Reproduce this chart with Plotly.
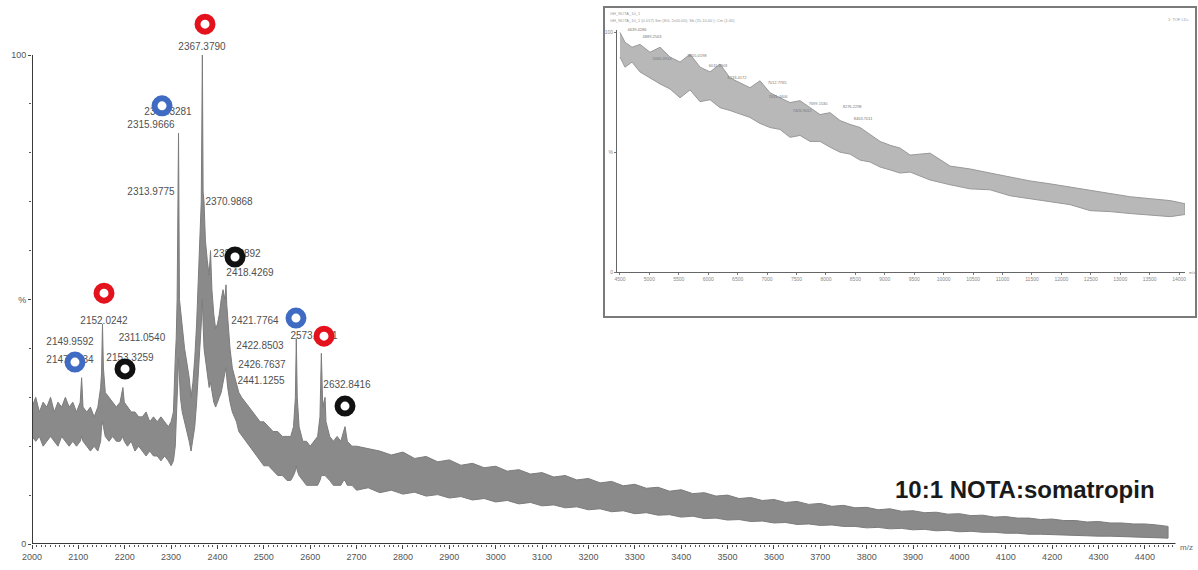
import plotly.graph_objects as go

# ---------------- main spectrum (m/z, upper / lower edge of the noisy trace, %) -------------
mz = [2000, 2008, 2016, 2024, 2032, 2040, 2048, 2056, 2064, 2072, 2080, 2088, 2096, 2104,
      2107, 2110, 2118, 2126, 2134, 2142, 2148, 2150, 2152, 2154, 2158, 2166, 2174, 2182,
      2190, 2196, 2199, 2206, 2214, 2222, 2230, 2238, 2246, 2254, 2262, 2270, 2278, 2286,
      2294, 2300, 2305, 2309, 2311, 2313, 2314, 2315, 2316, 2318, 2320, 2324, 2329, 2334,
      2339, 2343, 2347, 2351, 2355, 2359, 2362, 2365, 2367.4, 2369, 2371, 2374, 2378, 2382,
      2385, 2388, 2392, 2396, 2400, 2404, 2408, 2412, 2416, 2418.4, 2420, 2422, 2423, 2427,
      2432, 2437, 2441, 2446, 2452, 2460, 2468, 2476, 2484, 2492, 2500, 2510, 2520, 2530,
      2540, 2550, 2558, 2564, 2568, 2570, 2572, 2576, 2584, 2592, 2600, 2608, 2616, 2621,
      2624, 2627, 2632, 2634, 2642, 2650, 2658, 2666, 2672, 2675, 2680, 2690,
      2700, 2725, 2750, 2775, 2800, 2825, 2850, 2875, 2900, 2925, 2950, 2975, 3000, 3025,
      3050, 3075, 3100, 3125, 3150, 3175, 3200, 3225, 3250, 3275, 3300, 3325, 3350, 3375,
      3400, 3425, 3450, 3475, 3500, 3525, 3550, 3575, 3600, 3625, 3650, 3675, 3700, 3725,
      3750, 3775, 3800, 3825, 3850, 3875, 3900, 3925, 3950, 3975, 4000, 4025, 4050, 4075,
      4100, 4125, 4150, 4175, 4200, 4225, 4250, 4275, 4300, 4325, 4350, 4375, 4400, 4425,
      4450]
upper = [28, 30, 27, 29, 28, 30, 27, 29, 28, 30, 28, 29, 27, 29,
         34, 28, 27, 28, 26, 28, 32, 35, 45, 36, 31, 30, 29, 28,
         29, 32, 29, 28, 27, 27, 26, 26, 27, 25, 26, 25, 26, 25,
         24, 25, 27, 38, 42, 50, 70, 60, 84, 50, 48, 44, 40, 37,
         34, 30, 33, 38, 45, 55, 62, 70, 100, 72, 70, 62, 58, 55,
         60, 52, 47, 44, 45, 47, 50, 52, 50, 53, 49, 46, 44, 40,
         36, 34, 33, 31, 30, 29, 28, 27, 26, 25, 25, 24, 23, 23,
         22, 22, 22, 24, 30, 42, 30, 24, 21, 21, 20, 21, 22, 26,
         39, 28, 30, 25, 22, 21, 22, 21, 23, 24, 21, 20,
         20, 19.5, 19, 18.2, 18.8, 17.5, 17.9, 16.8, 17.2, 16.1, 16.5, 15.6, 15.9, 14.9,
         15.2, 14.3, 14.6, 13.7, 14.0, 13.1, 13.4, 12.5, 12.8, 11.9, 12.2, 11.4, 11.6, 10.8,
         11.1, 10.3, 10.5, 9.8, 10.0, 9.3, 9.5, 8.9, 9.1, 8.5, 8.7, 8.1, 8.3, 7.7,
         7.9, 7.4, 7.5, 7.0, 7.2, 6.7, 6.8, 6.4, 6.5, 6.1, 6.2, 5.8, 5.9, 5.5,
         5.6, 5.3, 5.3, 5.0, 5.1, 4.8, 4.8, 4.5, 4.6, 4.3, 4.3, 4.1, 4.1, 3.9,
         3.6]
lower = [22, 21, 22, 20, 21, 22, 21, 20, 22, 21, 20, 21, 20, 21,
         22, 21, 20, 19, 20, 19, 21, 24, 25, 24, 22, 21, 22, 21,
         21, 22, 21, 20, 21, 19, 20, 19, 18, 19, 18, 18, 17, 18,
         17, 16, 17, 20, 25, 30, 32, 35, 38, 33, 30, 27, 25, 23,
         21, 19, 21, 24, 29, 34, 40, 45, 50, 45, 40, 38, 35, 32,
         33, 31, 29, 28, 29, 30, 31, 33, 35, 36, 34, 32, 31, 29,
         27, 26, 25, 23, 22, 21, 20, 19, 18, 17, 16, 16, 15, 14,
         14, 13, 13, 14, 15, 16, 15, 14, 13, 12, 12, 12, 12, 13,
         14, 14, 14, 14, 13, 12, 12, 12, 13, 13, 12, 12,
         11, 11.5, 10.5, 11, 10.2, 10.6, 9.8, 10.1, 9.4, 9.7, 9.0, 9.3, 8.6, 8.9,
         8.2, 8.5, 7.8, 8.0, 7.4, 7.6, 7.0, 7.2, 6.6, 6.8, 6.2, 6.4, 5.9, 6.0,
         5.5, 5.7, 5.2, 5.3, 4.9, 5.0, 4.6, 4.7, 4.3, 4.4, 4.0, 4.1, 3.8, 3.9,
         3.6, 3.6, 3.3, 3.4, 3.1, 3.2, 2.9, 3.0, 2.7, 2.8, 2.5, 2.6, 2.4, 2.4,
         2.2, 2.2, 2.0, 2.0, 1.9, 1.9, 1.7, 1.7, 1.6, 1.6, 1.5, 1.4, 1.3, 1.3,
         1.2]

# ---------------- peak labels (text, position of label centre) ----------------
label_text = ["2367.3790", "2368.3281", "2315.9666", "2313.9775", "2370.9868", "2384.3892",
              "2418.4269", "2421.7764", "2422.8503", "2426.7637", "2441.1255", "2152.0242",
              "2149.9592", "2147.8634", "2311.0540", "2153.3259", "2573.8351", "2632.8416"]
label_mz = [2366.6, 2293.3, 2256.6, 2256.6, 2424.9, 2442.1, 2470.1, 2480.9, 2491.7, 2496.0,
            2493.9, 2155.3, 2081.9, 2081.9, 2237.2, 2211.3, 2608.2, 2679.3]
label_y = [101.6, 88.3, 85.5, 71.8, 69.9, 59.3, 55.4, 45.4, 40.3, 36.6, 33.3, 45.6, 41.3,
           37.6, 42.1, 38.0, 42.5, 32.5]

# ---------------- coloured ring markers ----------------
ring_mz = [2373.1, 2155.3, 2629.7, 2280.4, 2092.7, 2569.3, 2437.8, 2200.6, 2675.0]
ring_y = [106.3, 51.3, 42.5, 89.6, 37.2, 46.2, 58.7, 35.8, 28.2]
ring_color = ["#e3121c", "#e3121c", "#e3121c", "#3f6cc2", "#3f6cc2", "#3f6cc2",
              "#111111", "#111111", "#111111"]

# ---------------- x tick labels ----------------
x_ticks = list(range(2000, 4401, 100))
x_minor = list(range(2000, 4461, 10))

# ---------------- inset spectrum ----------------
in_mz = [4501, 4586, 4705, 4841, 5011, 5181, 5351, 5521, 5691, 5861, 6031, 6200, 6370,
         6540, 6710, 6880, 7050, 7220, 7390, 7560, 7730, 7900, 8070, 8240, 8410, 8580,
         8750, 8920, 9090, 9260, 9430, 9770, 10110, 10450, 10790, 11130, 11470, 11810,
         12150, 12490, 12830, 13170, 13510, 13850, 14100]
in_upper = [100, 95.9, 93.8, 95.0, 91.7, 93.8, 89.7, 87.6, 90.9, 85.5, 83.5, 86.8, 81.0,
            78.9, 76.9, 79.8, 74.8, 72.7, 70.7, 71.5, 68.6, 65.7, 66.5, 63.2, 61.6, 60.3,
            57.4, 54.5, 52.9, 51.7, 48.8, 49.6, 44.2, 43.0, 41.3, 39.7, 38.0, 36.8,
            35.5, 33.9, 32.6, 31.4, 30.6, 29.8, 28.5]
in_lower = [89.7, 85.5, 87.6, 83.5, 81.0, 78.5, 76.4, 72.7, 76.0, 71.1, 71.9, 68.6, 67.4,
            66.1, 64.5, 62.0, 60.3, 59.5, 56.2, 57.0, 54.5, 54.5, 52.1, 50.0, 49.2, 46.7,
            45.9, 43.8, 42.6, 41.3, 41.7, 38.4, 36.4, 34.7, 34.3, 31.8, 30.6, 29.3,
            28.1, 25.6, 25.2, 24.4, 23.6, 23.1, 24.0]
in_label_text = ["4639.4286", "4889.2563", "5060.3914", "5655.0198", "6011.5903", "6333.4172",
                 "7012.7765", "7031.4406", "7426.9012", "7699.1530", "8276.2298", "8463.7011"]
in_label_mz = [4790, 5045, 5215, 5810, 6167, 6490, 7170, 7187, 7595, 7867, 8445, 8632]
in_label_y = [101, 98, 89, 90, 86, 81, 79, 73, 67, 70, 69, 64]
in_ticks = list(range(4500, 14001, 500))

FONT = "Liberation Sans, Arial, sans-serif"
fig = go.Figure()

# main spectrum band
fig.add_trace(go.Scatter(
    x=mz + mz[::-1], y=upper + lower[::-1], mode="lines", fill="toself",
    fillcolor="#8a8a8a", line=dict(color="#7c7c7c", width=1), hoverinfo="skip",
    showlegend=False))

# peak labels (drawn below the rings)
fig.add_trace(go.Scatter(
    x=label_mz, y=label_y, mode="text", text=label_text, textposition="middle center",
    textfont=dict(family=FONT, size=10, color="#505050"), showlegend=False,
    hoverinfo="skip", cliponaxis=False))

# rings
fig.add_trace(go.Scatter(
    x=ring_mz, y=ring_y, mode="markers",
    marker=dict(symbol="circle", size=15, color="white",
                line=dict(color=ring_color, width=6)),
    showlegend=False, hoverinfo="skip", cliponaxis=False))

# inset spectrum
fig.add_trace(go.Scatter(
    x=in_mz + in_mz[::-1], y=in_upper + in_lower[::-1], mode="lines", fill="toself",
    fillcolor="#b8b8b8", line=dict(color="#999999", width=1), xaxis="x2", yaxis="y2",
    hoverinfo="skip", showlegend=False))
fig.add_trace(go.Scatter(
    x=in_label_mz, y=in_label_y, mode="text", text=in_label_text,
    textfont=dict(family=FONT, size=4, color="#777"), xaxis="x2", yaxis="y2",
    hoverinfo="skip", showlegend=False, cliponaxis=False))

L, R, T, B = 32, 5, 5, 26
W, H = 1198, 570
pw, ph = W - L - R, H - T - B


def px(xp):
    return (xp - L) / pw


def py(yp):
    return (H - B - yp) / ph


fig.update_layout(
    width=W, height=H, margin=dict(l=L, r=R, t=T, b=B),
    paper_bgcolor="white", plot_bgcolor="white", showlegend=False,
    font=dict(family=FONT, color="#555"),
    xaxis=dict(range=[2000, 2000 + pw / 0.4637], showgrid=False, zeroline=False,
               showline=False, tickmode="array", tickvals=x_ticks,
               ticktext=[str(v) for v in x_ticks], ticks="outside", ticklen=4,
               tickcolor="#444", tickwidth=1, tickfont=dict(size=9, color="#555"),
               minor=dict(tickmode="array", tickvals=x_minor, ticks="outside",
                          ticklen=2, tickcolor="#555")),
    yaxis=dict(range=[0, ph / 4.89], showgrid=False, zeroline=False, showline=False,
               tickmode="array", tickvals=[0, 50, 100], ticktext=["0", "%", "100"],
               ticks="outside", ticklen=3, tickcolor="#444",
               tickfont=dict(size=9, color="#555"),
               minor=dict(tickmode="array", tickvals=list(range(10, 100, 10)),
                          ticks="outside", ticklen=2, tickcolor="#555")),
    xaxis2=dict(domain=[px(617), px(1185)], anchor="y2", range=[4450, 14100],
                showgrid=False, zeroline=False, showline=True, linecolor="#666",
                linewidth=1, tickmode="array", tickvals=in_ticks,
                ticktext=[str(v) for v in in_ticks], ticks="outside",
                ticklen=2, tickcolor="#777", tickfont=dict(size=5, color="#888")),
    yaxis2=dict(domain=[py(272), py(30)], anchor="x2", range=[0, 101], showgrid=False,
                zeroline=False, showline=True, linecolor="#666", linewidth=1,
                tickmode="array", tickvals=[0, 50, 100], ticktext=["0", "%", "100"],
                ticks="outside", ticklen=2, tickcolor="#777",
                tickfont=dict(size=5, color="#888")),
    shapes=[
        dict(type="line", xref="x", yref="y", x0=2000, x1=2000, y0=0, y1=100,
             line=dict(color="#3a3a3a", width=2)),
        dict(type="line", xref="x", yref="y", x0=2000, x1=4466, y0=0, y1=0,
             line=dict(color="#3a3a3a", width=2)),
        dict(type="rect", xref="paper", yref="paper", x0=px(604), x1=px(1196),
             y0=py(317), y1=py(7), line=dict(color="#7a7a7a", width=2)),
    ],
    annotations=[
        dict(text="<b>10:1 NOTA:somatropin</b>", xref="paper", yref="paper",
             x=px(1025), y=py(489), xanchor="center", yanchor="middle", showarrow=False,
             font=dict(family=FONT, size=24, color="#1a1a1a")),
        dict(text="m/z", xref="paper", yref="paper", x=px(1178), y=py(547),
             xanchor="left", yanchor="middle", showarrow=False,
             font=dict(size=8, color="#666")),
        dict(text="m/z", xref="paper", yref="paper", x=px(1187), y=py(272),
             xanchor="left", yanchor="middle", showarrow=False,
             font=dict(size=4, color="#888")),
        dict(text="GH_NOTA_10_1", xref="paper", yref="paper", x=px(608), y=py(13),
             xanchor="left", yanchor="middle", showarrow=False,
             font=dict(size=4, color="#999")),
        dict(text="GH_NOTA_10_1 (0.017) Sm (SG, 2x50.00); Sb (15,10.00 ); Cm (1:40)",
             xref="paper", yref="paper", x=px(608), y=py(20), xanchor="left",
             yanchor="middle", showarrow=False, font=dict(size=4, color="#999")),
        dict(text="1: TOF LD+", xref="paper", yref="paper", x=px(1192), y=py(19),
             xanchor="right", yanchor="middle", showarrow=False,
             font=dict(size=4, color="#999")),
    ],
)

fig.write_html("out.html")
